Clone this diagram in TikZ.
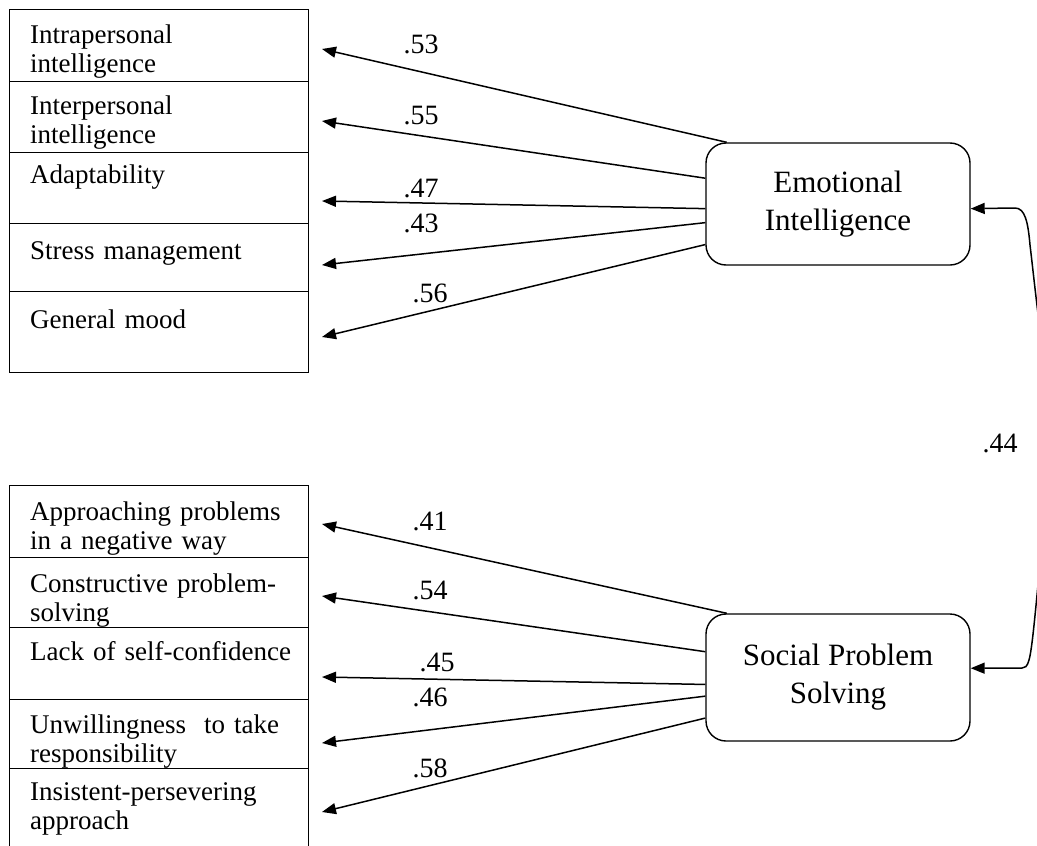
\documentclass[tikz,border=0pt]{standalone}
\usepackage{fontspec}
\setmainfont{Liberation Serif}
\usetikzlibrary{arrows.meta}

\begin{document}
\begin{tikzpicture}[x=1pt,y=-1pt,>={Triangle[length=14pt,width=11pt]},
    cell/.style={draw,line width=1.4pt,minimum width=299pt,inner sep=0pt,anchor=north west},
    item/.style={anchor=base west,inner sep=0pt,text width=290pt,align=left,
      font=\fontsize{27}{29}\selectfont},
    latent/.style={draw,line width=1.4pt,rounded corners=20pt,minimum width=264pt,
      align=center,font=\fontsize{31}{38}\selectfont},
    coef/.style={inner sep=0pt,font=\fontsize{28}{28}\selectfont},
    arr/.style={line width=1.5pt,->}]
\useasboundingbox (0,0) rectangle (1037,846);
\clip (0,0) rectangle (1037,846);
% Draw indicator cells
\foreach \nm/\ya/\yb in {t1/9/81, t2/81/152, t3/152/223, t4/223/291, t5/291/372,
    b1/485/557, b2/557/627, b3/627/699, b4/699/768, b5/768/880}
  \node[cell,minimum height={\yb pt-\ya pt}] (\nm) at (9,\ya) {};
% Indicator texts
\node[item] (intra)  at (30,43)  {Intrapersonal\\intelligence};
\node[item] (inter)  at (30,114) {Interpersonal\\intelligence};
\node[item] (adapt)  at (30,183) {Adaptability};
\node[item] (stress) at (30,259) {Stress management};
\node[item] (mood)   at (30,328) {General mood};
\node[item] (negat)  at (30,520) {Approaching problems\\in a negative way};
\node[item] (constr) at (30,592) {Constructive problem-\\solving};
\node[item] (lack)   at (30,660) {Lack of self-confidence};
\node[item] (unwill) at (30,733) {Unwillingness\ \ to take\\responsibility};
\node[item] (insist) at (30,800) {Insistent-persevering\\approach};
% Latent variables
\node[latent,minimum height=122pt] (ei)  at (838,204)   {Emotional\\Intelligence};
\node[latent,minimum height=127pt] (sps) at (838,677.5) {Social Problem\\Solving};
% arrow ends
\coordinate (e1) at (322,49);
\coordinate (e2) at (322,121);
\coordinate (e3) at (322,201);
\coordinate (e4) at (322,265);
\coordinate (e5) at (322,337);
\coordinate (s1) at (322,524);
\coordinate (s2) at (322,596);
\coordinate (s3) at (322,677);
\coordinate (s4) at (322,743);
\coordinate (s5) at (322,812);
%loadings
\draw[arr] (ei.151.6) -- (e1);
\draw[arr] (ei.169.7) -- (e2);
\draw[arr] (ei.182.2) -- (e3);
\draw[arr] (ei.188.2) -- (e4);
\draw[arr] (ei.197.3) -- (e5);
\draw[arr] (sps.150.7) -- (s1);
\draw[arr] (sps.169.1) -- (s2);
\draw[arr] (sps.183.2) -- (s3);
\draw[arr] (sps.188.4) -- (s4);
\draw[arr] (sps.197.1) -- (s5);
%correlation
\coordinate (bend1) at (1015,208);
\coordinate (bend2) at (1022,668);
\draw[line width=1.5pt,<->]
  (ei.-2) -- (bend1) .. controls (1025,208) and (1028,222) .. (1030,245)
  .. controls (1033,270) and (1035,290) .. (1040,330)
  .. controls (1047,420) and (1046,500) .. (1039,575)
  .. controls (1035,615) and (1032,650) .. (1029,660)
  .. controls (1027,667) and (1025,668) .. (bend2) -- (sps.4);
%coefficients
\node[coef] (c53) at (421,44)  {.53};
\node[coef] (c55) at (421,116) {.55};
\node[coef] (c47) at (421,188) {.47};
\node[coef] (c43) at (421,223) {.43};
\node[coef] (c56) at (430,293) {.56};
\node[coef] (c41) at (430,521) {.41};
\node[coef] (c54) at (430,590) {.54};
\node[coef] (c45) at (437,662) {.45};
\node[coef] (c46) at (430,697) {.46};
\node[coef] (c58) at (430,768) {.58};
\node[coef] (c44) at (1000,443) {.44};
\end{tikzpicture}
\end{document}
